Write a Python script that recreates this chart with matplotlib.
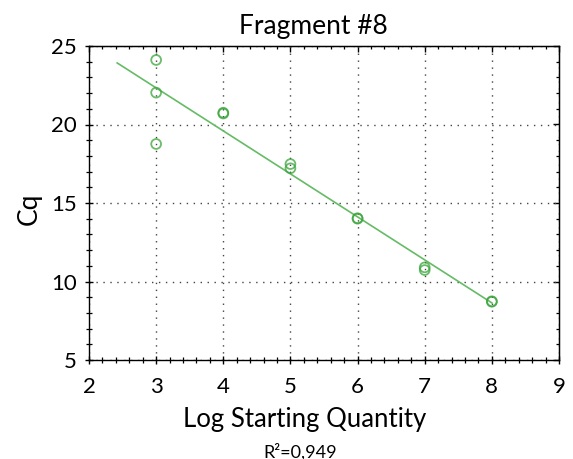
import matplotlib
matplotlib.use("Agg")
import matplotlib.pyplot as plt
import numpy as np
from matplotlib.ticker import MultipleLocator

plt.rcParams['font.family'] = ['Lato', 'DejaVu Sans']
plt.rcParams['lines.scale_dashes'] = False

log_qty = [3, 3, 3, 4, 4, 5, 5, 6, 6, 7, 7, 8, 8]
cq = [24.11, 22.03, 18.76, 20.75, 20.70, 17.48, 17.21, 14.03, 14.00, 10.90, 10.73, 8.71, 8.74]
x_ticks = [2, 3, 4, 5, 6, 7, 8, 9]
y_ticks = [5, 10, 15, 20, 25]
title = "Fragment #8"
x_label = "Log Starting Quantity"
y_label = "Cq"
r2_text = "R²=0,949"

W, H = 573, 459
fig = plt.figure(figsize=(W / 100, H / 100), dpi=100)
ax = fig.add_axes([89 / W, 1 - 360 / H, 470 / W, 314 / H])

x = np.array(log_qty, dtype=float)
y = np.array(cq, dtype=float)
slope, intercept = np.polyfit(x, y, 1)
xl = np.array([2.42, 8.0])
ax.plot(xl, slope * xl + intercept, color='#66bb66', lw=1.2, zorder=2)

ax.scatter(x, y, s=50, facecolors='none', edgecolors='#3aa53a', linewidths=1.3,
           alpha=0.75, zorder=3)

ax.set_xlim(2, 9)
ax.set_ylim(5, 25)
ax.set_xticks(x_ticks)
ax.set_yticks(y_ticks)
ax.xaxis.set_minor_locator(MultipleLocator(0.2))
ax.yaxis.set_minor_locator(MultipleLocator(1))
ax.tick_params(which='major', direction='inout', length=6, width=1.0, labelsize=16,
               top=False, right=False, colors='black')
ax.tick_params(which='minor', direction='inout', length=4.3, width=0.9,
               top=False, right=False)
ax.tick_params(axis='x', which='major', pad=9.5)
ax.tick_params(axis='y', which='major', pad=6)
ax.grid(True, which='major', linestyle=(0, (1.0, 4.0)), color='#444444', linewidth=1.0)
for s in ax.spines.values():
    s.set_color('black')
    s.set_linewidth(1.0)

# top and right: inward ticks only, no labels
axt = ax.secondary_xaxis('top')
axt.set_xticks(x_ticks)
axt.xaxis.set_minor_locator(MultipleLocator(0.2))
axt.tick_params(which='major', direction='in', length=4, width=1.0, labeltop=False)
axt.tick_params(which='minor', direction='in', length=2.5, width=0.9)
axr = ax.secondary_yaxis('right')
axr.set_yticks(y_ticks)
axr.yaxis.set_minor_locator(MultipleLocator(1))
axr.tick_params(which='major', direction='in', length=4, width=1.0, labelright=False)
axr.tick_params(which='minor', direction='in', length=2.5, width=0.9)

fig.text(313 / W, 1 - 34 / H, title, ha='center', va='baseline', fontsize=19)
fig.text(305 / W, 1 - 427 / H, x_label, ha='center', va='baseline', fontsize=18.5)
fig.text(29 / W, 1 - 208.5 / H, y_label, ha='center', va='center', rotation=90, fontsize=19)
fig.text(300 / W, 1 - 457.3 / H, r2_text, ha='center', va='baseline', fontsize=13)

fig.savefig("out.png", dpi=100)
